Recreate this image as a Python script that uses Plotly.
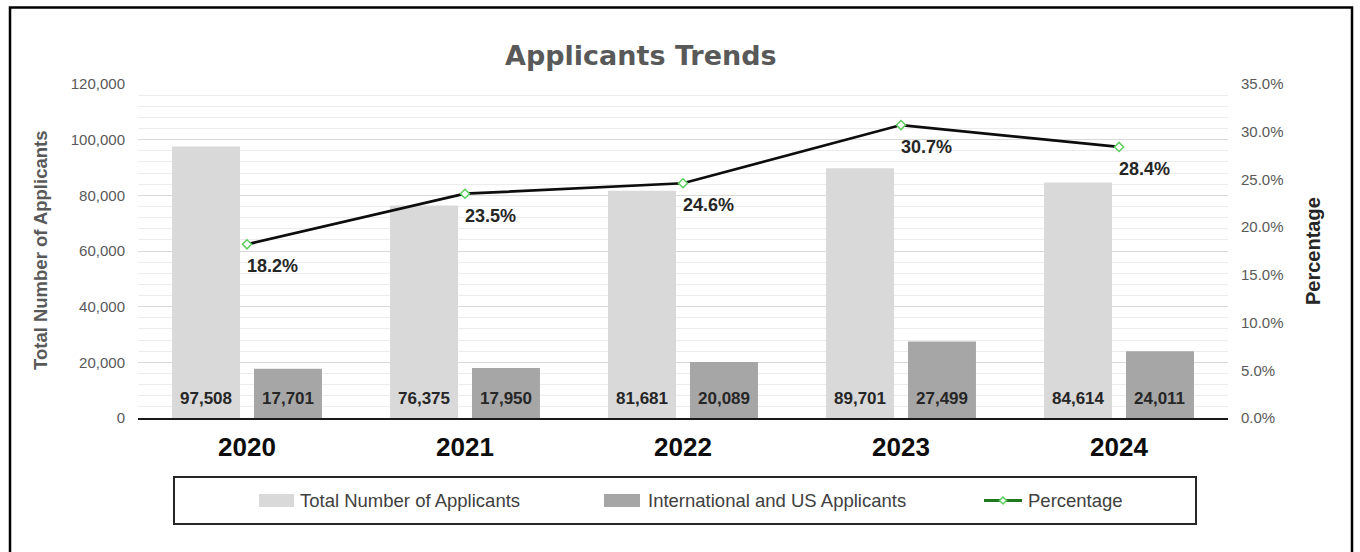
import plotly.graph_objects as go

# ---- data ----
years = ["2020", "2021", "2022", "2023", "2024"]
total_applicants = [97508, 76375, 81681, 89701, 84614]
intl_us_applicants = [17701, 17950, 20089, 27499, 24011]
percentage = [18.2, 23.5, 24.6, 30.7, 28.4]

series_names = ["Total Number of Applicants", "International and US Applicants", "Percentage"]

# ---- styling ----
C_TOTAL = "#d9d9d9"
C_INTL = "#a6a6a6"
C_LINE = "#0d0d0d"
C_MARKER = "#5ccf5c"
C_LEGEND_LINE = "#1f7a1f"
C_AXIS_TXT = "#595959"
SANS = "Liberation Sans, Arial, sans-serif"

WIDTH, HEIGHT = 1360, 552
L, R, T, B = 138, 1228, 84, 418          # plot area in pixels
BARGAP, BARGROUPGAP = 0.248, 0.171


def px(x):
    return (x - L) / (R - L)


def py(y):
    return (B - y) / (B - T)


fig = go.Figure()

fig.add_trace(go.Bar(
    x=years, y=total_applicants, name=series_names[0],
    marker=dict(color=C_TOTAL, line=dict(width=0)), showlegend=False,
))
fig.add_trace(go.Bar(
    x=years, y=intl_us_applicants, name=series_names[1],
    marker=dict(color=C_INTL, line=dict(width=0)), showlegend=False,
))
fig.add_trace(go.Scatter(
    x=years, y=[p / 100 for p in percentage], name=series_names[2], yaxis="y2",
    mode="lines+markers",
    line=dict(color=C_LINE, width=2.75),
    marker=dict(symbol="diamond", size=7, color="white",
                line=dict(color=C_MARKER, width=1.5)),
    showlegend=False,
))

annotations = []

# value labels at the base of each bar (category axis: positions by index)
cat_px = (R - L) / len(years)
bar_offset = cat_px * (1 - BARGAP) / 4
for i, (tv, iv) in enumerate(zip(total_applicants, intl_us_applicants)):
    for val, sh in ((tv, -bar_offset), (iv, bar_offset)):
        annotations.append(dict(
            x=i, y=0, xref="x", yref="y", text=f"{val:,}", showarrow=False,
            xanchor="center", yanchor="middle", xshift=sh, yshift=20,
            font=dict(family=SANS, size=17, color="#262626", weight="bold"),
        ))

# percentage labels below-right of each point
for i, p in enumerate(percentage):
    annotations.append(dict(
        x=i, y=p / 100, xref="x", yref="y2", text=f"{p:.1f}%", showarrow=False,
        xanchor="left", yanchor="middle", xshift=-2, yshift=-22,
        font=dict(family=SANS, size=18, color="#262626", weight="bold"),
    ))

# chart title and axis titles
annotations.append(dict(
    x=px(641), y=py(55), xref="paper", yref="paper", text="Applicants Trends",
    showarrow=False, xanchor="center", yanchor="middle",
    font=dict(family="DejaVu Sans, sans-serif", size=27, color=C_AXIS_TXT, weight="bold"),
))
annotations.append(dict(
    x=px(40), y=py(251), xref="paper", yref="paper", text="Total Number of Applicants",
    showarrow=False, xanchor="center", yanchor="middle", textangle=-90,
    font=dict(family=SANS, size=18.5, color=C_AXIS_TXT, weight="bold"),
))
annotations.append(dict(
    x=px(1313), y=py(251), xref="paper", yref="paper", text="Percentage",
    showarrow=False, xanchor="center", yanchor="middle", textangle=-90,
    font=dict(family=SANS, size=20, color="#262626", weight="bold"),
))

# ---- legend box drawn below the plot ----
LEG_Y = 500.5
legend_font = dict(family=SANS, size=18.5, color="#404040")
shapes = [
    # outer chart frame
    dict(type="rect", xref="paper", yref="paper",
         x0=px(10), x1=px(1352), y0=py(600), y1=py(7.5),
         line=dict(color="black", width=2.5), fillcolor="rgba(0,0,0,0)", layer="above"),
    # legend frame
    dict(type="rect", xref="paper", yref="paper",
         x0=px(174), x1=px(1196), y0=py(524), y1=py(477),
         line=dict(color="#262626", width=2), fillcolor="rgba(0,0,0,0)"),
    # swatches
    dict(type="rect", xref="paper", yref="paper",
         x0=px(259), x1=px(294), y0=py(507), y1=py(494),
         line=dict(width=0), fillcolor=C_TOTAL),
    dict(type="rect", xref="paper", yref="paper",
         x0=px(604), x1=px(640), y0=py(507), y1=py(494),
         line=dict(width=0), fillcolor=C_INTL),
    dict(type="line", xref="paper", yref="paper",
         x0=px(984), x1=px(1022), y0=py(LEG_Y), y1=py(LEG_Y),
         line=dict(color=C_LEGEND_LINE, width=3)),
]
mx, mr = 1003, 3.5
shapes.append(dict(
    type="path", xref="paper", yref="paper",
    path=(f"M{px(mx - mr)},{py(LEG_Y)} L{px(mx)},{py(LEG_Y - mr)} "
          f"L{px(mx + mr)},{py(LEG_Y)} L{px(mx)},{py(LEG_Y + mr)} Z"),
    fillcolor="white", line=dict(color=C_MARKER, width=1.5),
))
for name, xpos in zip(series_names, (298, 646, 1026)):
    annotations.append(dict(
        x=px(xpos), y=py(LEG_Y), xref="paper", yref="paper", text=name,
        showarrow=False, xanchor="left", yanchor="middle", font=legend_font,
    ))

fig.update_layout(
    width=WIDTH, height=HEIGHT,
    margin=dict(l=L, r=WIDTH - R, t=T, b=HEIGHT - B, pad=0),
    paper_bgcolor="white", plot_bgcolor="white",
    barmode="group", bargap=BARGAP, bargroupgap=BARGROUPGAP,
    showlegend=False,
    xaxis=dict(
        type="category", range=[-0.5, len(years) - 0.5],
        showgrid=False, zeroline=False,
        showline=True, linecolor="#1a1a1a", linewidth=1.5,
        ticks="", ticklabelstandoff=5,
        tickfont=dict(family=SANS, size=26, color="#0d0d0d", weight="bold"),
    ),
    yaxis=dict(
        range=[0, 120000], dtick=20000, tickformat=",",
        showgrid=True, gridcolor="#d9d9d9", gridwidth=1,
        minor=dict(dtick=4000, showgrid=True, gridcolor="#ececec", gridwidth=1),
        zeroline=False, showline=False, ticks="", ticklabelstandoff=12,
        tickfont=dict(family=SANS, size=15, color=C_AXIS_TXT),
    ),
    yaxis2=dict(
        overlaying="y", side="right", range=[0, 0.35], dtick=0.05, tickformat=".1%",
        showgrid=False, zeroline=False, showline=False, ticks="", ticklabelstandoff=12,
        tickfont=dict(family=SANS, size=15, color=C_AXIS_TXT),
    ),
    annotations=annotations, shapes=shapes,
)

fig.write_html("out.html")
